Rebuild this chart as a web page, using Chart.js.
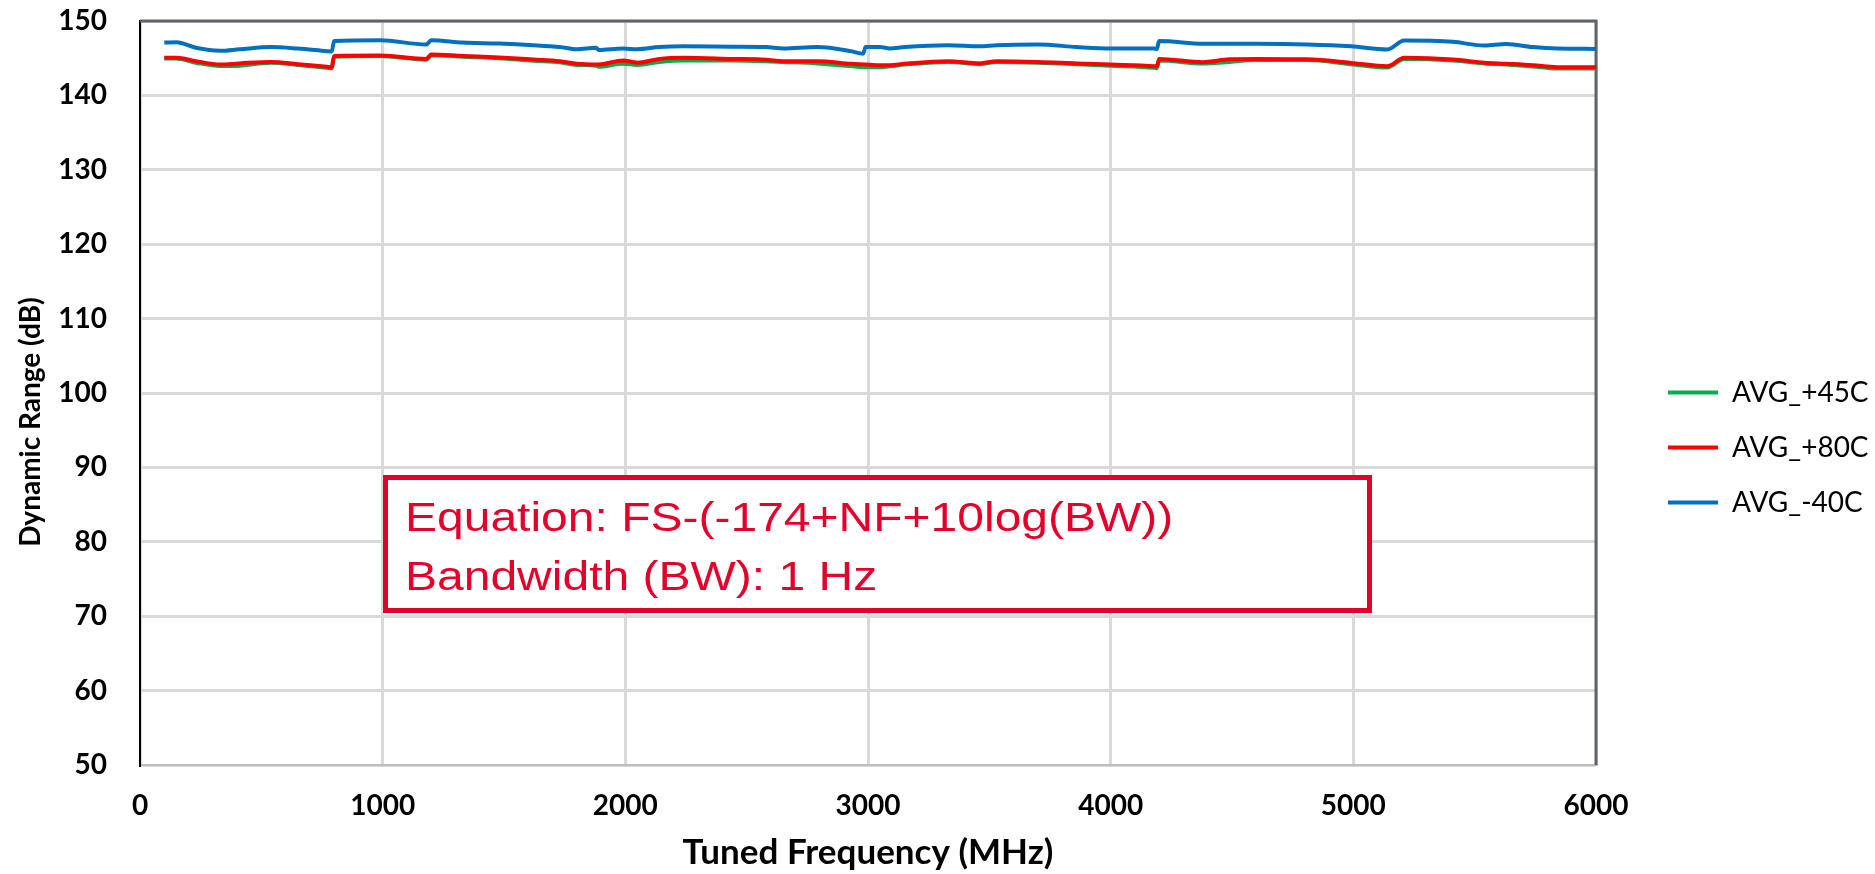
<!DOCTYPE html>
<html>
<head>
<meta charset="utf-8">
<title>Dynamic Range vs Tuned Frequency</title>
<script src="https://cdn.jsdelivr.net/npm/chart.js@4.4.1/dist/chart.umd.min.js"></script>
<style>
  html, body { margin: 0; padding: 0; background: #fff; }
  canvas { display: block; }
</style>
</head>
<body>
<canvas id="chart" width="1875" height="874"></canvas>
<script>
// Tuned frequency (MHz), shared by all three curves
const freqMHz = [100, 150, 230, 330, 410, 540, 650, 770, 790, 800,
  990, 1180, 1200, 1330, 1480, 1620, 1730, 1800, 1880, 1890,
  1990, 2050, 2140, 2240, 2440, 2580, 2650, 2790, 2930, 2980,
  2990, 3050, 3090, 3150, 3330, 3460, 3530, 3700, 3860, 4000,
  4180, 4190, 4200, 4380, 4490, 4600, 4810, 4990, 5140, 5210,
  5410, 5540, 5630, 5740, 5840, 6000];

// Dynamic range (dB) per temperature
const avgPlus45 = [144.95, 144.95, 144.4, 143.95, 144.0, 144.4, 144.1, 143.7, 143.65, 145.2,
  145.3, 144.8, 145.4, 145.2, 145.0, 144.65, 144.45, 144.1, 144.0, 143.85,
  144.25, 144.1, 144.5, 144.7, 144.7, 144.6, 144.5, 144.3, 143.95, 143.8,
  143.8, 143.8, 143.9, 144.15, 144.5, 144.2, 144.5, 144.4, 144.2, 144.0,
  143.7, 143.65, 144.7, 144.3, 144.5, 144.75, 144.75, 144.2, 143.75, 144.9,
  144.7, 144.3, 144.15, 143.9, 143.6, 143.6];
const avgPlus80 = [145.05, 145.05, 144.6, 144.15, 144.3, 144.5, 144.2, 143.85, 143.8, 145.3,
  145.36, 144.9, 145.5, 145.3, 145.1, 144.83, 144.6, 144.25, 144.15, 144.15,
  144.7, 144.4, 144.9, 145.05, 144.9, 144.8, 144.6, 144.6, 144.25, 144.15,
  144.15, 144.05, 144.05, 144.25, 144.6, 144.3, 144.6, 144.5, 144.3, 144.15,
  143.93, 143.9, 144.9, 144.47, 144.85, 144.9, 144.85, 144.37, 143.93, 145.05,
  144.83, 144.4, 144.25, 144.05, 143.8, 143.8];
const avgMinus40 = [147.1, 147.15, 146.4, 146.0, 146.2, 146.5, 146.3, 145.95, 145.9, 147.3,
  147.4, 146.85, 147.4, 147.1, 146.97, 146.75, 146.5, 146.2, 146.4, 146.1,
  146.3, 146.2, 146.5, 146.6, 146.55, 146.5, 146.3, 146.5, 145.95, 145.6,
  146.5, 146.5, 146.3, 146.5, 146.75, 146.6, 146.75, 146.85, 146.5, 146.3,
  146.3, 146.25, 147.3, 146.95, 146.93, 146.93, 146.85, 146.6, 146.17, 147.37,
  147.2, 146.7, 146.9, 146.5, 146.3, 146.25];

const seriesNames = ['AVG_+45C', 'AVG_+80C', 'AVG_-40C'];
const seriesColors = ['#00B050', '#FF0000', '#0070C0'];
const seriesValues = [avgPlus45, avgPlus80, avgMinus40];

const yTitle = 'Dynamic Range (dB)';
const noteLines = ['Equation: FS-(-174+NF+10log(BW))', 'Bandwidth (BW): 1 Hz'];

Chart.defaults.font.family = 'Lato';
Chart.defaults.color = '#000';

function toPoints(values) {
  return values.map((v, i) => ({ x: freqMHz[i], y: v }));
}

// top and right edge of the plot area
const framePlugin = {
  id: 'frame',
  beforeDatasetsDraw(chart) {
    const { ctx, chartArea: a } = chart;
    ctx.save();
    ctx.strokeStyle = '#5F6368';
    ctx.lineWidth = 3;
    ctx.beginPath();
    ctx.moveTo(a.left, a.top);
    ctx.lineTo(a.right, a.top);
    ctx.lineTo(a.right, a.bottom);
    ctx.stroke();
    ctx.restore();
  }
};

// y title sits a bit below the plot centre in the original, so draw it here
const yTitlePlugin = {
  id: 'yTitle',
  afterDraw(chart) {
    const ctx = chart.ctx;
    ctx.save();
    ctx.translate(31, 422);
    ctx.rotate(-Math.PI / 2);
    ctx.font = 'bold 28px Lato';
    ctx.fillStyle = '#000';
    ctx.textAlign = 'center';
    ctx.textBaseline = 'middle';
    ctx.fillText(yTitle, 0, 0);
    ctx.restore();
  }
};

// red equation box
const notePlugin = {
  id: 'note',
  afterDatasetsDraw(chart) {
    const ctx = chart.ctx;
    ctx.save();
    ctx.fillStyle = '#fff';
    ctx.fillRect(383, 475, 989, 138);
    ctx.strokeStyle = '#E4002B';
    ctx.lineWidth = 5;
    ctx.strokeRect(385.5, 477.5, 984, 133);
    ctx.fillStyle = '#E4002B';
    ctx.font = '40px "Liberation Sans", Arial, sans-serif';
    ctx.textBaseline = 'alphabetic';
    noteLines.forEach((line, i) => {
      ctx.save();
      ctx.translate(405, 531 + i * 58.5);
      ctx.scale(1.2, 1);
      ctx.fillText(line, 0, 0);
      ctx.restore();
    });
    ctx.restore();
  }
};

const tickFont = { family: 'Lato', size: 28, weight: 'bold' };

new Chart(document.getElementById('chart').getContext('2d'), {
  type: 'line',
  data: {
    datasets: seriesNames.map((name, i) => ({
      label: name,
      data: toPoints(seriesValues[i]),
      borderColor: seriesColors[i],
      backgroundColor: seriesColors[i],
      borderWidth: 4,
      pointRadius: 0,
      cubicInterpolationMode: 'monotone',
      fill: false,
      order: 2 - i
    }))
  },
  options: {
    responsive: false,
    animation: false,
    layout: { padding: { top: 21, right: 4, bottom: 0, left: 0 } },
    plugins: {
      tooltip: { enabled: false },
      legend: {
        position: 'right',
        maxWidth: 230,
        labels: {
          usePointStyle: true,
          pointStyle: 'line',
          pointStyleWidth: 50,
          padding: 27,
          color: '#000',
          font: { family: 'Lato', size: 28 },
          sort: (a, b) => a.datasetIndex - b.datasetIndex
        }
      }
    },
    scales: {
      x: {
        type: 'linear',
        min: 0,
        max: 6000,
        ticks: {
          stepSize: 1000,
          padding: 24,
          maxRotation: 0,
          autoSkip: false,
          font: tickFont,
          color: '#000',
          callback: v => String(v)
        },
        grid: { color: '#D9D9D9', lineWidth: 3, drawTicks: false },
        border: { color: '#BFBFBF', width: 2 },
        title: {
          display: true,
          text: 'Tuned Frequency (MHz)',
          font: { family: 'Lato', size: 35, weight: 'bold' },
          color: '#000',
          padding: 0
        },
        afterFit: s => { s.height = 109; }
      },
      y: {
        type: 'linear',
        min: 50,
        max: 150,
        ticks: {
          stepSize: 10,
          padding: 3,
          font: tickFont,
          color: '#000',
          callback: v => String(v)
        },
        grid: { color: '#D9D9D9', lineWidth: 3, drawTicks: true, tickLength: 30, tickColor: 'rgba(0,0,0,0)' },
        border: { color: '#000', width: 2 },
        afterFit: s => { s.width = 140; }
      },
      y2: {
        type: 'linear',
        position: 'right',
        min: 50,
        max: 150,
        grid: { display: false, drawTicks: false },
        ticks: { display: false },
        border: { display: false },
        afterFit: s => { s.width = 45; }
      }
    }
  },
  plugins: [framePlugin, yTitlePlugin, notePlugin]
});
</script>
</body>
</html>
